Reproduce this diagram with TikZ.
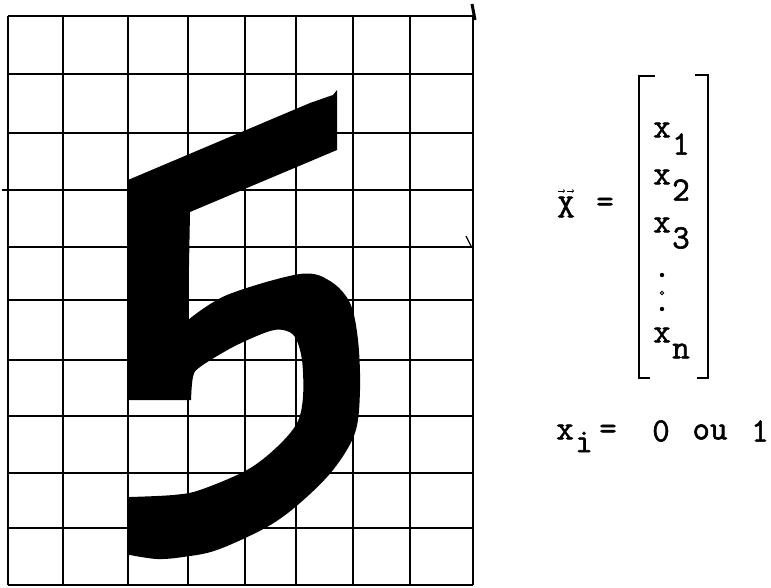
\documentclass[tikz,border=0pt]{standalone}
\usepackage{fontspec}
\usetikzlibrary{arrows.meta}
\newfontfamily\tw[BoldFont={Latin Modern Mono},BoldFeatures={FakeBold=1.6}]{Latin Modern Mono}
\begin{document}
\begin{tikzpicture}[x=1pt,y=-1pt,
  gridline/.style={line width=2.1pt,black},
  brack/.style={line width=2.2pt,black},
  tt/.style={inner sep=0pt,font=\tw\bfseries\fontsize{34}{34}\selectfont}]
\useasboundingbox (0,0) rectangle (771,588);
% grid
\foreach \xx in {8,63,128,188,245,296,353,410,473}
  \draw[gridline] (\xx,16) -- (\xx,585);
\foreach \yy in {16,74,133,190,247,300,360,416,473,528,585}
  \draw[gridline] (8,\yy) -- (473,\yy);
\draw[gridline] (2,190) -- (8,190);
\draw[line width=3pt] (472,4) -- (475,20);
\draw[line width=1.2pt] (466,236) -- (471,246);
% the five
\fill[black] (128,180) -- (310,103) -- (333,95) -- (337,90) -- (337,150) -- (190,212) -- (188,320)
  -- plot[smooth,tension=0.55] coordinates {(188,320) (227,295) (300,274) (330,281) (350,303) (358,340) (360,390) (355,433) (333,470) (300,503) (267,527) (217,550) (183,557) (157,559) (130,555)}
  -- (128,555) -- (128,497)
  -- plot[smooth,tension=0.55] coordinates {(130,497) (173,495) (200,490) (247,470) (277,447) (297,423) (303,397) (302,360) (295,337) (283,330) (267,332) (233,347) (200,367) (193,377) (191,400)}
  -- (128,400) -- cycle;
% bracket
\draw[brack] (655,76) -- (639,76) -- (639,378) -- (650,378);
\draw[brack] (695,75) -- (708,75) -- (708,378) -- (697,378);
% vector entries
\node[tt] (x1) at (662,130) {x};
\node[tt] (s1) at (681,144) {1};
\node[tt] (x2) at (662,177) {x};
\node[tt] (s2) at (681,190) {2};
\node[tt] (x3) at (662,225) {x};
\node[tt] (s3) at (681,238) {3};
\fill (662,275) circle (2.2pt);
\draw[line width=0.8pt] (662,293) circle (1.8pt);
\fill (662,309) circle (2.2pt);
\node[tt] (xn) at (662,335) {x};
\node[tt] (sn) at (681,351) {n};
% X vector
\node[tt] (X) at (566,207) {X};
\draw[line width=0.6pt,-{Straight Barb[length=1.5pt]}] (558,191) -- (565,191);
\draw[line width=0.6pt,-{Straight Barb[length=1.5pt]}] (567,191) -- (574,191);
\node[tt] (eq1) at (605,205) {=};
% xi line
\node[tt] (xi) at (565,432) {x};
\node[tt] (si) at (584,442) {i};
\node[tt] (eq2) at (608,432) {=};
\node[tt] (zero) at (661,431) {0};
\node[tt] (ou) at (710,432) {ou};
\node[tt] (one) at (760,431) {1};
\end{tikzpicture}
\end{document}
